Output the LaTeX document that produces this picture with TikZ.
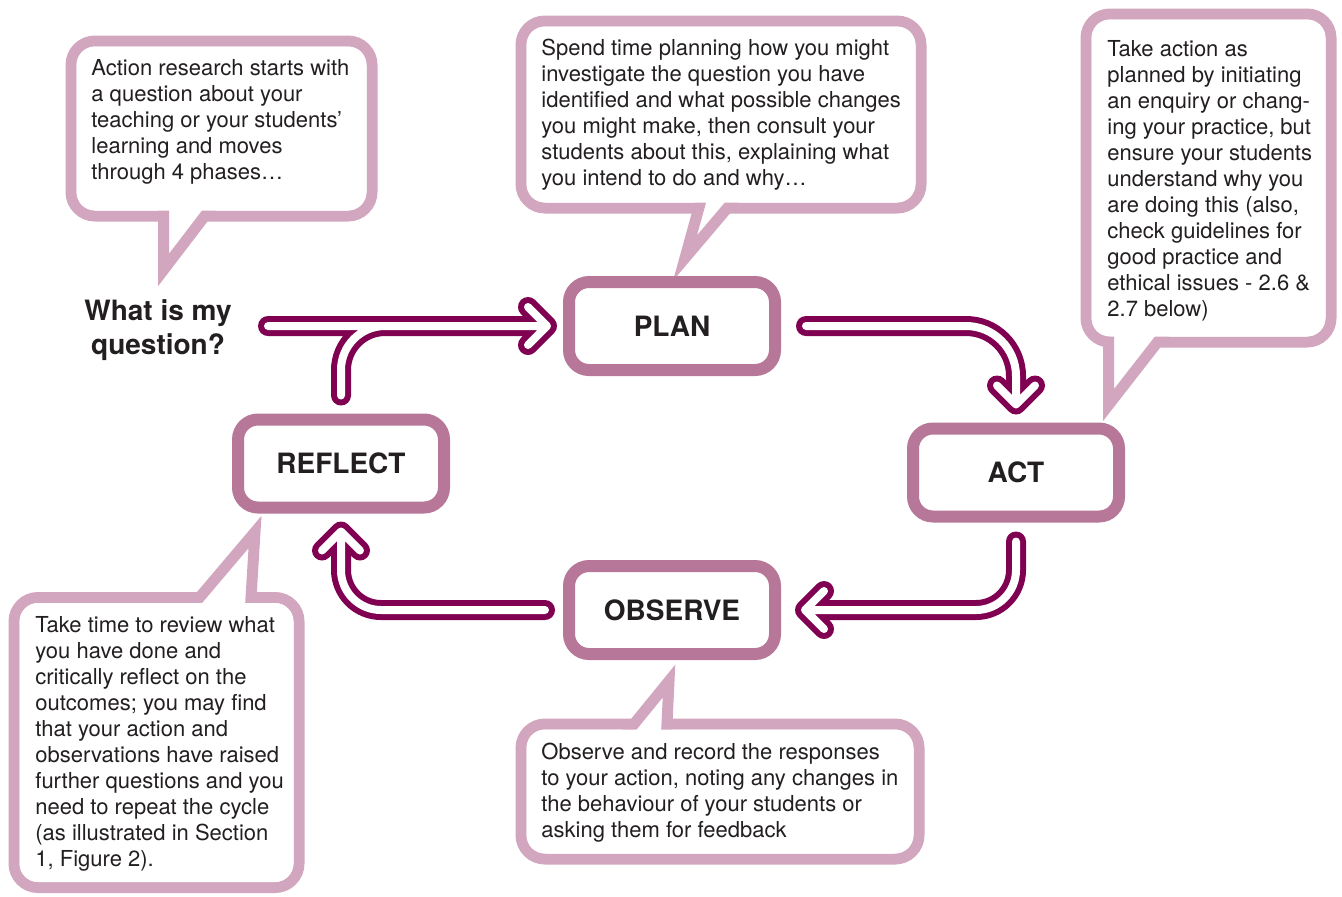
\documentclass[tikz,border=0pt]{standalone}
\usepackage{fontspec}
\setmainfont{TeX Gyre Heros}
\usetikzlibrary{calc, positioning}
\definecolor{notec}{RGB}{210,166,190}
\definecolor{stagec}{RGB}{182,119,153}
\definecolor{cyclec}{RGB}{128,0,82}
\definecolor{inkc}{RGB}{35,31,32}

\begin{document}
\begin{tikzpicture}[x=0.5pt, y=-0.5pt, text=inkc,
		note/.style={draw=notec, line width=5.5pt, fill=white, rounded corners=12pt, outer sep=0pt, inner sep=0pt},
		tail/.style={draw=notec, line width=5.5pt, fill=white, line join=miter},
		hole/.style={fill=white, rounded corners=9.25pt},
		notetext/.style={anchor=base west, inner sep=0pt, align=left, font=\fontsize{11}{13}\selectfont},
		stage/.style={draw=stagec, line width=6pt, fill=white, rounded corners=10pt, outer sep=0pt, minimum width=103pt, minimum height=44pt, font=\fontsize{14}{17}\selectfont\bfseries},
		cyc/.style={draw=cyclec, double=white, double distance=4pt, line width=3pt, line cap=round, line join=round}]
	\useasboundingbox (0,0) rectangle (1342,896);

	\node[note, minimum width=150.5pt, minimum height=87.5pt] (startnote) at (221.5,128.5) {};
	\draw[tail] (163.5,204) -- (163.5,270) -- (212,206.5);
	\fill[hole] ($(startnote.north west)+(5.5,5.5)$) rectangle ($(startnote.south east)+(-5.5,-5.5)$);
	\node[notetext] (starttext) at (91,179) {Action research starts with\\a question about your\\teaching or your students’\\learning and moves\\through 4 phases…};

	\node[note, minimum width=200pt, minimum height=93.5pt] (plannote) at (721,114.5) {};
	\draw[tail] (702,196.5) -- (685,258) -- (735,199);
	\fill[hole] ($(plannote.north west)+(5.5,5.5)$) rectangle ($(plannote.south east)+(-5.5,-5.5)$);
	\node[notetext] (plantext) at (541,185) {Spend time planning how you might\\investigate the question you have\\identified and what possible changes\\you might make, then consult your\\students about this, explaining what\\you intend to do and why…};

	\node[note, minimum width=122.5pt, minimum height=164pt] (actnote) at (1208.5,178) {};
	\draw[tail] (1108.5,330) -- (1108.5,405) -- (1165,332.5);
	\fill[hole] ($(actnote.north west)+(5.5,5.5)$) rectangle ($(actnote.south east)+(-5.5,-5.5)$);
	\node[notetext] (acttext) at (1107,316) {Take action as\\planned by initiating\\an enquiry or chang-\\ing your practice, but\\ensure your students\\understand why you\\are doing this (also,\\check guidelines for\\good practice and\\ethical issues - 2.6 \&\\2.7 below)};

	\node[note, minimum width=142.5pt, minimum height=145pt] (reflnote) at (156.5,742.5) {};
	\draw[tail] (191.7,606.7) -- (255,532) -- (250.3,609.5);
	\fill[hole] ($(reflnote.north west)+(5.5,5.5)$) rectangle ($(reflnote.south east)+(-5.5,-5.5)$);
	\node[notetext] (refltext) at (35,866) {Take time to review what\\you have done and\\critically reflect on the\\outcomes; you may find\\that your action and\\observations have raised\\further questions and you\\need to repeat the cycle\\(as illustrated in Section\\1, Figure 2).};

	\node[note, minimum width=199pt, minimum height=67.5pt] (obsnote) at (720,791.5) {};
	\draw[tail] (626.4,733.3) -- (669,681) -- (666.4,736);
	\fill[hole] ($(obsnote.north west)+(5.5,5.5)$) rectangle ($(obsnote.south east)+(-5.5,-5.5)$);
	\node[notetext] (obstext) at (541,837) {Observe and record the responses\\to your action, noting any changes in\\the behaviour of your students or\\asking them for feedback};

	\node[stage] (plan) at (672,326) {PLAN};
	\node[stage] (act) at (1016,472.5) {ACT};
	\node[stage, below=98pt of plan] (observe) {OBSERVE};
	\node[stage] (reflect) at (341,463.5) {REFLECT};
	\node[font=\fontsize{14}{17}\selectfont\bfseries, align=center, inner sep=0pt] (question) at (158,330) {What is my\\question?};

	\coordinate (planin) at ($(plan.west)+(-22,0)$);
	\coordinate (actin) at ($(act.north)+(0,-24)$);
	\coordinate (obsin) at ($(observe.east)+(30,0)$);
	\coordinate (reflin) at ($(reflect.south)+(0,24)$);

	\draw[cyc] ($(planin)+(-19,-19)$) -- (planin) -- ($(planin)+(-19,19)$)
		($(planin -| question.east)+(36,0)$) -- (planin)
		($(reflect.north)+(0,-24)$) [rounded corners=22pt] |- (planin);
	\draw[cyc] ($(actin)+(-19,-19)$) -- (actin) -- ($(actin)+(19,-19)$)
		($(plan.east)+(31,0)$) [rounded corners=25pt] -| (actin);
	\draw[cyc] ($(obsin)+(19,-19)$) -- (obsin) -- ($(obsin)+(19,19)$)
		($(act.south)+(0,25)$) [rounded corners=20pt] |- (obsin);
	\draw[cyc] ($(reflin)+(-19,19)$) -- (reflin) -- ($(reflin)+(19,19)$)
		($(observe.west)+(-24,0)$) [rounded corners=20pt] -| (reflin);
\end{tikzpicture}
\end{document}
